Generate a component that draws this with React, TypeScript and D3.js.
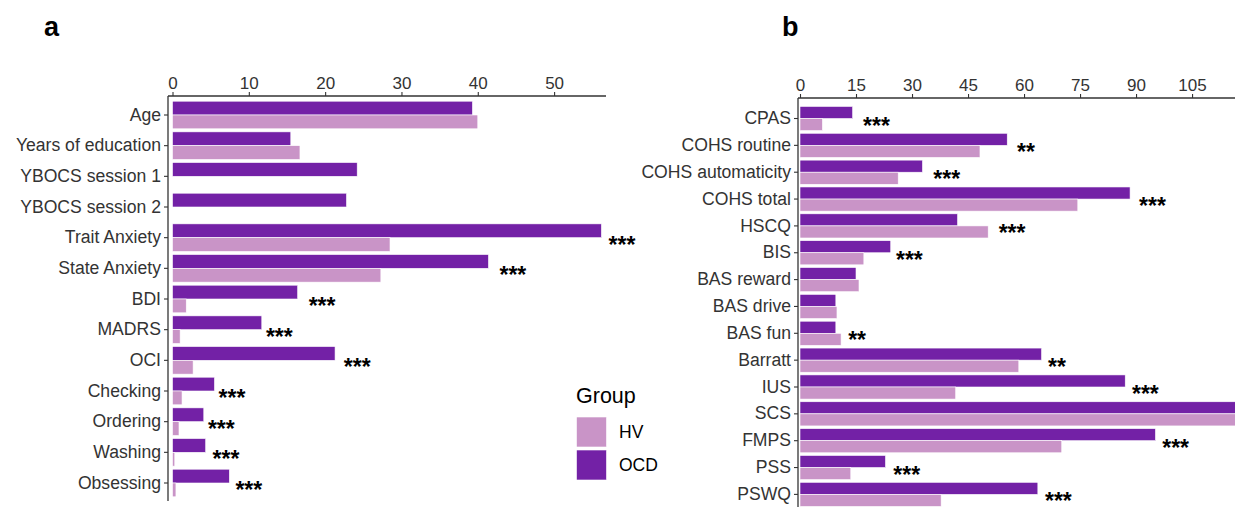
import { useEffect, useRef } from "react";
import * as d3 from "d3";

// panel a: clinical / demographic measures
const measuresA = [
  "Age",
  "Years of education",
  "YBOCS session 1",
  "YBOCS session 2",
  "Trait Anxiety",
  "State Anxiety",
  "BDI",
  "MADRS",
  "OCI",
  "Checking",
  "Ordering",
  "Washing",
  "Obsessing",
];
const ocdA = [39.3, 15.5, 24.2, 22.8, 56.2, 41.4, 16.4, 11.7, 21.3, 5.5, 4.1, 4.35, 7.45];
const hvA = [40.0, 16.7, 0, 0, 28.5, 27.3, 1.8, 1.0, 2.7, 1.25, 0.85, 0.3, 0.45];
const starsA = ["", "", "", "", "***", "***", "***", "***", "***", "***", "***", "***", "***"];
const starAtA = [0, 0, 0, 0, 58.9, 44.6, 19.6, 14.0, 24.2, 7.8, 6.4, 7.0, 10.0];
const ticksA = [0, 10, 20, 30, 40, 50];

// panel b: questionnaires
const measuresB = [
  "CPAS",
  "COHS routine",
  "COHS automaticity",
  "COHS total",
  "HSCQ",
  "BIS",
  "BAS reward",
  "BAS drive",
  "BAS fun",
  "Barratt",
  "IUS",
  "SCS",
  "FMPS",
  "PSS",
  "PSWQ",
];
const ocdB = [14.1, 55.5, 32.8, 88.4, 42.2, 24.3, 15.0, 9.6, 9.6, 64.7, 87.1, 122, 95.2, 22.9, 63.7];
const hvB = [6.0, 48.2, 26.3, 74.4, 50.4, 17.1, 15.8, 9.9, 11.0, 58.6, 41.7, 124, 70.1, 13.6, 37.8];
const starsB = ["***", "**", "***", "***", "***", "***", "", "", "**", "**", "***", "", "***", "***", "***"];
const starAtB = [20.5, 60.5, 39.3, 94.4, 56.8, 29.3, 0, 0, 15.3, 68.8, 92.5, 0, 100.6, 28.6, 69.2];
const ticksB = [0, 15, 30, 45, 60, 75, 90, 105];

const groups = ["OCD", "HV"];
const legendGroups = ["HV", "OCD"];

const COLORS: Record<string, string> = { HV: "#c994c7", OCD: "#7321a6" };
const FONT = "'Liberation Sans', Arial, Helvetica, sans-serif";
const AXIS = "#333333";
const TEXT = "#333333";

type Panel = {
  measures: string[];
  ocd: number[];
  hv: number[];
  stars: string[];
  starAt: number[];
  ticks: number[];
  xDomain: [number, number];
  xRange: [number, number];
  yRange: [number, number];
  axisLeft: number;
  axisTop: number;
  axisBottom: number;
};

const drawPanel = (svg: any, p: Panel) => {
  const x = d3.scaleLinear().domain(p.xDomain).range(p.xRange);
  const y = d3
    .scaleBand()
    .domain(p.measures)
    .range(p.yRange)
    .paddingInner(0.1)
    .paddingOuter(0.15);
  const inner = d3.scaleBand().domain(groups).range([0, y.bandwidth()]);

  const g = svg.append("g");

  const rows = p.measures.map((m, i) => ({
    name: m,
    OCD: p.ocd[i],
    HV: p.hv[i],
    star: p.stars[i],
    starAt: p.starAt[i],
  }));

  // bars
  rows.forEach((r) => {
    groups.forEach((grp) => {
      const v = (r as any)[grp];
      if (!v) return;
      g.append("rect")
        .attr("x", x(0))
        .attr("y", (y(r.name) as number) + (inner(grp) as number))
        .attr("width", x(v) - x(0))
        .attr("height", inner.bandwidth())
        .attr("fill", COLORS[grp])
        .attr("stroke", "#ffffff")
        .attr("stroke-width", 0.6);
    });
  });

  // significance stars
  g.selectAll(".star")
    .data(rows.filter((r) => r.star))
    .enter()
    .append("text")
    .attr("class", "star")
    .attr("x", (d) => x(d.starAt))
    .attr("y", (d) => (y(d.name) as number) + y.bandwidth() / 2 + 15)
    .attr("text-anchor", "middle")
    .attr("font-family", FONT)
    .attr("font-weight", "bold")
    .attr("font-size", "23px")
    .attr("fill", "#000")
    .text((d) => d.star);

  // top axis
  const xAxis = d3
    .axisTop(x)
    .tickValues(p.ticks)
    .tickSize(4)
    .tickPadding(3)
    .tickFormat(d3.format("d") as any);
  const gx = g
    .append("g")
    .attr("transform", `translate(0, ${p.axisTop})`)
    .call(xAxis as any);
  gx.select(".domain").remove();
  gx.selectAll("line").attr("stroke", AXIS).attr("stroke-width", 1.1);
  gx.selectAll("text")
    .attr("font-family", FONT)
    .attr("font-size", "17px")
    .attr("fill", TEXT);

  // left axis
  const yAxis = d3.axisLeft(y).tickSize(4).tickPadding(3);
  const gy = g
    .append("g")
    .attr("transform", `translate(${p.axisLeft}, 0)`)
    .call(yAxis as any);
  gy.select(".domain").remove();
  gy.selectAll("line").attr("stroke", AXIS).attr("stroke-width", 1.1);
  gy.selectAll("text")
    .attr("font-family", FONT)
    .attr("font-size", "17.6px")
    .attr("fill", TEXT);

  // axis lines
  g.append("line")
    .attr("x1", p.axisLeft)
    .attr("x2", p.xRange[1])
    .attr("y1", p.axisTop)
    .attr("y2", p.axisTop)
    .attr("stroke", AXIS)
    .attr("stroke-width", 1.3);
  g.append("line")
    .attr("x1", p.axisLeft)
    .attr("x2", p.axisLeft)
    .attr("y1", p.axisTop)
    .attr("y2", p.axisBottom)
    .attr("stroke", AXIS)
    .attr("stroke-width", 1.3);
};

const App = () => {
  const svgRef = useRef(null);

  useEffect(() => {
    const svg = d3.select(svgRef.current);
    svg.selectAll("*").remove();
    const width = 1235;
    const height = 507;
    svg.attr("width", width).attr("height", height);

    svg
      .append("rect")
      .attr("width", width)
      .attr("height", height)
      .attr("fill", "#ffffff");

    drawPanel(svg, {
      measures: measuresA,
      ocd: ocdA,
      hv: hvA,
      stars: starsA,
      starAt: starAtA,
      ticks: ticksA,
      xDomain: [0, 56.8],
      xRange: [172.5, 606],
      yRange: [96.6, 501.4],
      axisLeft: 168,
      axisTop: 96,
      axisBottom: 501,
    });

    drawPanel(svg, {
      measures: measuresB,
      ocd: ocdB,
      hv: hvB,
      stars: starsB,
      starAt: starAtB,
      ticks: ticksB,
      xDomain: [0, 116.5],
      xRange: [800, 1235],
      yRange: [102.4, 510.5],
      axisLeft: 798,
      axisTop: 98,
      axisBottom: 507,
    });

    // panel letters
    svg
      .selectAll(".panel-letter")
      .data([
        { t: "a", x: 44 },
        { t: "b", x: 782 },
      ])
      .enter()
      .append("text")
      .attr("x", (d) => d.x)
      .attr("y", 36)
      .attr("font-family", FONT)
      .attr("font-weight", "bold")
      .attr("font-size", "27px")
      .attr("fill", "#000")
      .text((d) => d.t);

    // legend
    const legend = svg.append("g").attr("transform", "translate(576, 0)");
    legend
      .append("text")
      .attr("x", 0)
      .attr("y", 403)
      .attr("font-family", FONT)
      .attr("font-size", "21.5px")
      .attr("fill", "#000")
      .text("Group");
    legendGroups.forEach((grp, i) => {
      legend
        .append("rect")
        .attr("x", 0.5)
        .attr("y", 417 + i * 33)
        .attr("width", 30)
        .attr("height", 30)
        .attr("fill", COLORS[grp])
        .attr("stroke", "#ffffff")
        .attr("stroke-width", 0.6);
      legend
        .append("text")
        .attr("x", 43)
        .attr("y", 432 + i * 33)
        .attr("dy", "0.35em")
        .attr("font-family", FONT)
        .attr("font-size", "17.5px")
        .attr("fill", "#000")
        .text(grp);
    });
  }, []);

  return (
    <svg
      ref={svgRef}
      style={{ position: "absolute", left: 0, top: 0, display: "block" }}
    ></svg>
  );
};

export default App;
